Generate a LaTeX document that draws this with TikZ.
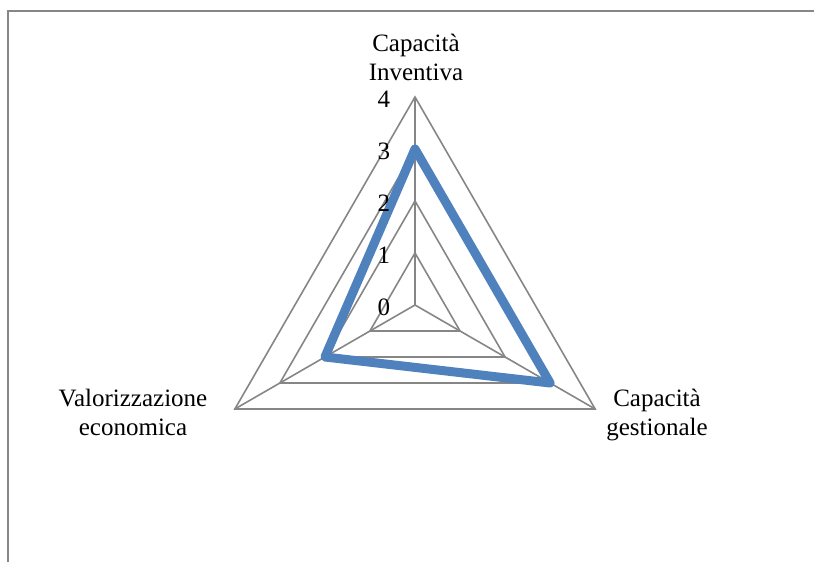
\documentclass[tikz,border=0pt]{standalone}
\usepackage{fontspec}
\setmainfont{Liberation Serif}
\usetikzlibrary{calc}
\definecolor{gridgray}{RGB}{134,134,134}
\definecolor{serieblue}{RGB}{79,129,189}
\tikzset{
  grid line/.style={draw=gridgray, line width=0.8pt},
  axis label/.style={align=center, font=\fontsize{12.5}{14.5}\selectfont, inner sep=0pt, anchor=base},
  tick label/.style={font=\fontsize{12.5}{14.5}\selectfont, inner sep=0pt},
  serie/.style={draw=serieblue, line width=4.5pt, line join=round}
}

\begin{document}
\begin{tikzpicture}[x=0.5pt,y=0.5pt]
  \useasboundingbox (-415,-257) rectangle (399,305);
  \coordinate (O) at (0,0);
  % frame
  \coordinate (FL) at (-407,-257);
  \coordinate (FC) at (-407,294);
  \coordinate (FR) at (399,294);
  \draw[gridgray, line width=1pt] (FL) -- (FC) -- (FR);
  % grid
  \foreach \r in {1,2,3,4}
    \draw[grid line] (90:52*\r) -- (210:52*\r) -- (330:52*\r) -- cycle;
  \foreach \a/\n in {90/A,210/B,330/C} {
    \coordinate (\n) at (\a:208);
    \draw[grid line] (O) -- (\n);
  }
  % serie
  \coordinate (sA) at (90:156);
  \coordinate (sB) at (210:104);
  \coordinate (sC) at (330:156);
  \draw[serie] (sA) -- (sC) -- (sB) -- cycle;
  % labels
  \foreach \v in {0,...,4}
    \node[tick label] (t\v) at (-31,52*\v-2) {\v};
  \node[axis label] (labA) at (1,224) {Capacità\\Inventiva};
  \node[axis label] (labC) at (242,-130) {Capacità\\gestionale};
  \node[axis label] (labB) at (-282,-130) {Valorizzazione\\economica};
\end{tikzpicture}
\end{document}
